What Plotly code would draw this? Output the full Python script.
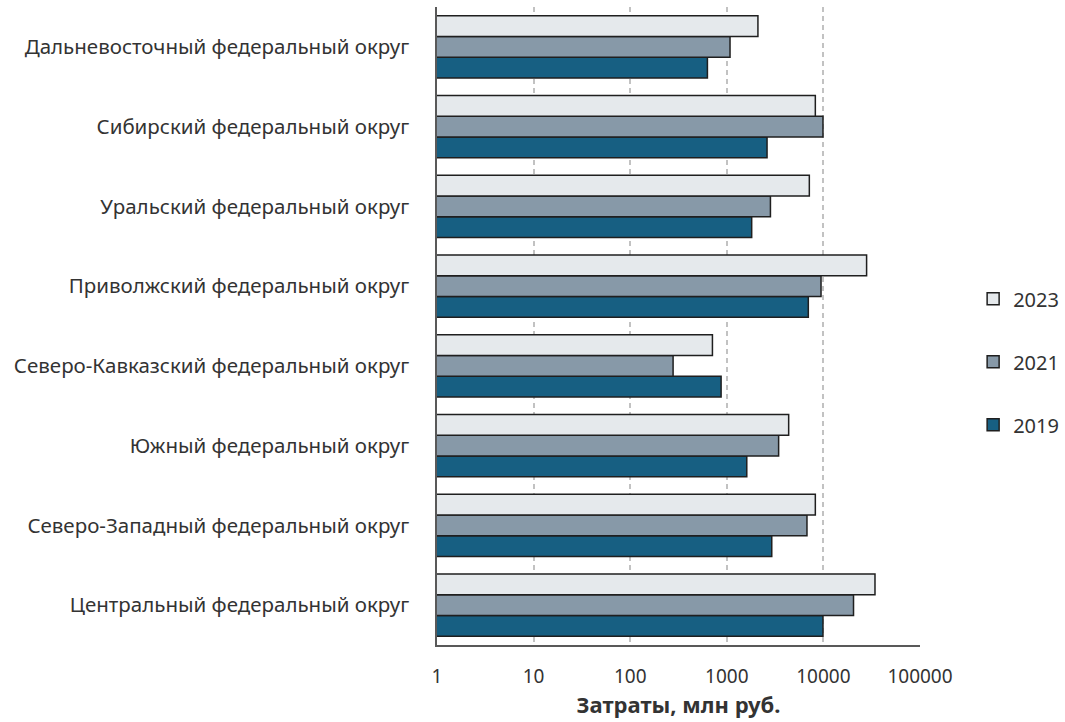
import plotly.graph_objects as go

regions = [
    "Дальневосточный федеральный округ",
    "Сибирский федеральный округ",
    "Уральский федеральный округ",
    "Приволжский федеральный округ",
    "Северо-Кавказский федеральный округ",
    "Южный федеральный округ",
    "Северо-Западный федеральный округ",
    "Центральный федеральный округ",
]
v2023 = [2100, 8250, 7150, 28000, 710, 4370, 8250, 34200]
v2021 = [1080, 9900, 2830, 9450, 278, 3440, 6760, 20500]
v2019 = [630, 2610, 1810, 6980, 873, 1610, 2920, 9900]

years = ["2019", "2021", "2023"]
series = [v2019, v2021, v2023]
colors = ["#175F82", "#8799A8", "#E5E9EC"]
ranks = [3, 2, 1]

FONT = "Noto Sans"

fig = go.Figure()
for yr, vals, col, rk in zip(years, series, colors, ranks):
    fig.add_trace(go.Bar(
        y=regions, x=vals, name=yr, orientation="h",
        marker=dict(color=col, line=dict(color="#1f1f1f", width=1.5)),
        legendgroup=yr, legendrank=rk,
    ))

fig.update_layout(
    width=1065, height=722,
    paper_bgcolor="white", plot_bgcolor="white",
    margin=dict(l=437, r=145, t=7, b=77, autoexpand=False),
    barmode="group", bargap=0.22, bargroupgap=0,
    font=dict(family=FONT, size=20.5, color="#333333"),
    legend=dict(
        x=1.11, y=0.444, xanchor="left", yanchor="middle",
        traceorder="grouped", tracegroupgap=34,
        font=dict(size=20, color="#333333"),
        itemwidth=30,
    ),
    xaxis=dict(
        type="log", range=[0, 5],
        tickvals=[1, 10, 100, 1000, 10000, 100000],
        ticktext=["1", "10", "100", "1000", "10000", "100000"],
        showgrid=True, gridcolor="#C2C2C2", griddash="5px,4px", gridwidth=1.5,
        showline=True, linecolor="#595959", linewidth=1.5,
        ticks="", ticklabelstandoff=13,
        tickfont=dict(size=19),
        title=dict(text="<b>Затраты, млн руб.</b>", font=dict(size=22), standoff=2),
        zeroline=False, automargin=False,
    ),
    yaxis=dict(
        categoryorder="array", categoryarray=list(reversed(regions)),
        showline=True, linecolor="#595959", linewidth=1.5,
        ticks="", ticklabelstandoff=22,
        showgrid=False, automargin=False,
    ),
)

fig.write_html(
    "out.html",
    config={"displayModeBar": False},
    post_script="document.body.style.margin='0';document.body.style.overflow='hidden';",
)
